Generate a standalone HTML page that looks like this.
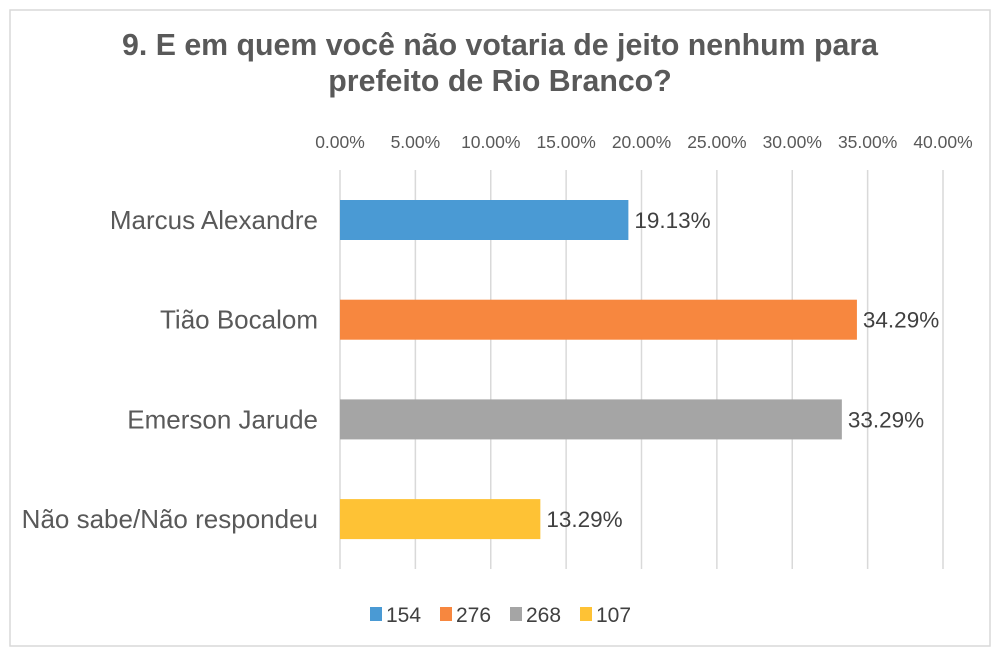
<!DOCTYPE html>
<html><head><meta charset="utf-8"><style>
body{margin:0;background:#fff;}
svg{display:block;font-family:"Liberation Sans",sans-serif;}
</style></head><body>
<svg id="chart" width="1000" height="654">
<rect x="10" y="10" width="980" height="636" fill="#fff" stroke="#d9d9d9" stroke-width="1.5"/>
<text x="500" y="55" text-anchor="middle" font-size="30.3" font-weight="bold" fill="#595959">9. E em quem você não votaria de jeito nenhum para</text>
<text x="500" y="91" text-anchor="middle" font-size="30.3" font-weight="bold" fill="#595959">prefeito de Rio Branco?</text>
<g id="grid"></g><g id="ticks"></g><g id="bars"></g><g id="legend"></g>
</svg>
<script>
const categories=["Marcus Alexandre","Tião Bocalom","Emerson Jarude","Não sabe/Não respondeu"];
const values=[19.13,34.29,33.29,13.29];
const tickValues=[0,5,10,15,20,25,30,35,40];
const legendLabels=["154","276","268","107"];
const colors=["#4a9ad4","#f7873f","#a5a5a5","#fec235"];
const NS="http://www.w3.org/2000/svg";
const x0=340,x1=943,maxV=40;
const xs=v=>x0+(x1-x0)*v/maxV;
const ys=i=>170+i*99.7;
function mk(tag,attrs,parent){const e=document.createElementNS(NS,tag);for(const k in attrs)e.setAttribute(k,attrs[k]);parent.appendChild(e);return e;}
const grid=document.getElementById('grid'),ticks=document.getElementById('ticks'),bars=document.getElementById('bars'),legend=document.getElementById('legend');
tickValues.forEach(t=>{
 const l=mk('line',{x1:xs(t),x2:xs(t),y1:170,y2:569,stroke:'#d9d9d9','stroke-width':1.5},grid);
 
 
 const tx=mk('text',{x:xs(t),y:148,'text-anchor':'middle','font-size':17.5,fill:'#595959'},ticks);
 tx.textContent=t.toFixed(2)+'%';
 
 
});
categories.forEach((c,i)=>{
 const y=ys(i)+30;
 const r=mk('rect',{x:x0,y:y,width:xs(values[i])-x0,height:40,fill:colors[i]},bars);
 
 
 const v=mk('text',{x:xs(values[i])+6,y:y+28,'font-size':22.5,fill:'#404040'},bars);
 v.textContent=values[i].toFixed(2)+'%';
 
 
 const cl=mk('text',{x:318,y:y+29,'text-anchor':'end','font-size':26,fill:'#595959'},bars);
 cl.textContent=c;
 
 
});
let lx=370;
legendLabels.forEach((lab,i)=>{
 const s=mk('rect',{x:lx,y:607,width:12,height:14,fill:colors[i]},legend);
 
 
 const t=mk('text',{x:lx+16,y:622,'font-size':21,fill:'#404040'},legend);
 t.textContent=lab;
 
 
 lx+=70;
});
</script>
</body></html>
